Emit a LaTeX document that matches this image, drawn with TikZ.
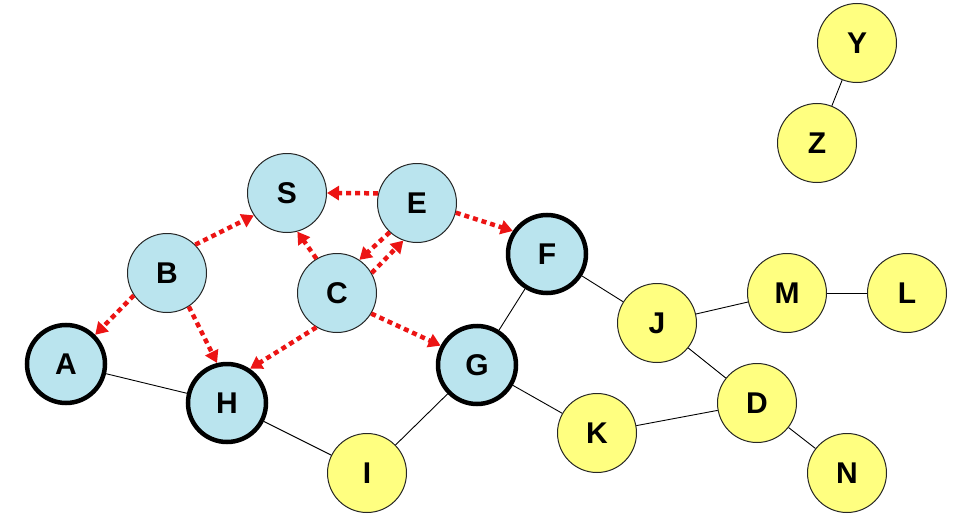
\documentclass[tikz,border=0pt]{standalone}
\usepackage{fontspec}
\setmainfont{Liberation Sans}
\usetikzlibrary{arrows.meta}
\definecolor{nodeblue}{RGB}{186,228,238}
\definecolor{nodeyellow}{RGB}{255,255,128}
\definecolor{arrred}{RGB}{236,20,20}
\tikzset{
  base/.style={circle,inner sep=0pt,font=\fontsize{30}{30}\selectfont\bfseries},
  bluen/.style={base,draw=black!85,line width=1pt,fill=nodeblue,minimum size=79pt},
  bluethick/.style={base,draw=black,line width=4.5pt,fill=nodeblue,minimum size=78pt},
  yelln/.style={base,draw=black!85,line width=1pt,fill=nodeyellow,minimum size=79pt},
  edge/.style={draw=black,line width=0.9pt},
  arr/.style={draw=arrred,line width=4.5pt,dash pattern=on 5pt off 4pt,
    -{Triangle[length=12pt,width=14pt]}}
}
\begin{document}
\begin{tikzpicture}[x=1pt,y=-1pt]
\useasboundingbox (0,0) rectangle (956,527);
% blue nodes
\node[bluen] (S) at (287,193) {S};
\node[bluen] (E) at (417,203) {E};
\node[bluen] (B) at (167,273) {B};
\node[bluen] (C) at (337,293) {C};
\node[bluethick] (A) at (66,364) {A};
\node[bluethick] (H) at (227,403) {H};
\node[bluethick] (F) at (547,254) {F};
\node[bluethick] (G) at (477,365) {G};
% yellow nodes
\node[yelln] (I) at (367,473) {I};
\node[yelln] (J) at (657,323) {J};
\node[yelln] (M) at (787,293) {M};
\node[yelln] (L) at (907,293) {L};
\node[yelln] (D) at (757,403) {D};
\node[yelln] (K) at (597,433) {K};
\node[yelln] (N) at (847,473) {N};
\node[yelln] (Y) at (857,43) {Y};
\node[yelln] (Z) at (817,143) {Z};
% black edges
\draw[edge] (A) -- (H);
\draw[edge] (H) -- (I);
\draw[edge] (I) -- (G);
\draw[edge] (G) -- (F);
\draw[edge] (G) -- (K);
\draw[edge] (F) -- (J);
\draw[edge] (J) -- (M);
\draw[edge] (M) -- (L);
\draw[edge] (J) -- (D);
\draw[edge] (K) -- (D);
\draw[edge] (D) -- (N);
\draw[edge] (Y) -- (Z);
% red dotted arrows
\draw[arr] (E.166) -- (S.east);
\draw[arr] (B.45) -- (S.214);
\draw[arr] (C.121) -- (S.285);
\draw[arr] (E.227) -- (C.56);
\draw[arr] (C.30) -- (E.250);
\draw[arr] (E.346) -- (F.146);
\draw[arr] (B.214) -- (A.45);
\draw[arr] (B.303) -- (H.104);
\draw[arr] (C.239) -- (H.56);
\draw[arr] (C.329) -- (G.152);
\end{tikzpicture}
\end{document}
